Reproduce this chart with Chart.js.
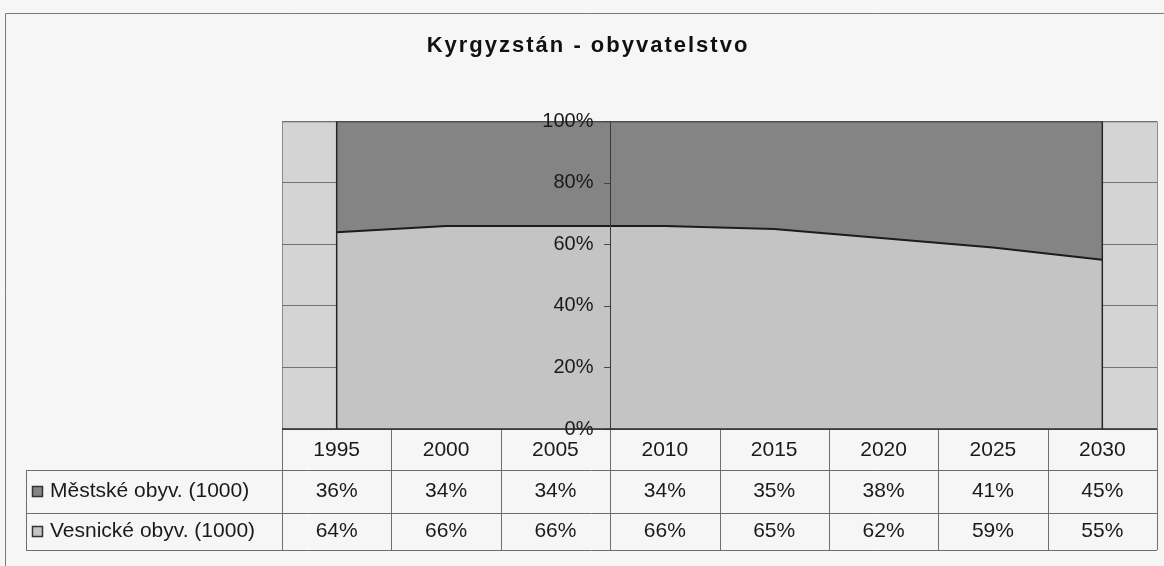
<!DOCTYPE html>
<html>
<head>
<meta charset="utf-8">
<script src="https://cdn.jsdelivr.net/npm/chart.js@4.4.0/dist/chart.umd.min.js"></script>
<style>
  html, body { margin: 0; padding: 0; background: #f6f6f6; }
  #chart { display: block; }
</style>
</head>
<body>
<canvas id="chart" width="1164" height="566"></canvas>
<script>
// data (100% stacked area + data table)
const years = ["1995", "2000", "2005", "2010", "2015", "2020", "2025", "2030"];
const mestske = [36, 34, 34, 34, 35, 38, 41, 45];
const vesnicke = [64, 66, 66, 66, 65, 62, 59, 55];
const seriesNames = ["Městské obyv. (1000)", "Vesnické obyv. (1000)"];
const yTickStep = 20;

const FONT = "'Liberation Sans', Arial, sans-serif";
const DARK = "#848484";
const LIGHT = "#c4c4c4";
const PLOT_BG = "#d4d4d4";
const rowHeights = [41, 43, 37];
const legendLeft = 26;

// page background, frame, plot background, title letter spacing
const backdrop = {
  id: "backdrop",
  beforeDraw(chart) {
    const ctx = chart.ctx, ca = chart.chartArea;
    ctx.save();
    ctx.fillStyle = "#f6f6f6";
    ctx.fillRect(0, 0, chart.width, chart.height);
    ctx.strokeStyle = "#7a7a7a";
    ctx.lineWidth = 1;
    ctx.beginPath();
    ctx.moveTo(5.5, chart.height);
    ctx.lineTo(5.5, 13.5);
    ctx.lineTo(chart.width, 13.5);
    ctx.stroke();
    ctx.fillStyle = PLOT_BG;
    ctx.fillRect(ca.left, ca.top, ca.right - ca.left, ca.bottom - ca.top);
    ctx.strokeStyle = "#8c8c8c";
    ctx.strokeRect(ca.left + 0.5, ca.top + 0.5, ca.right - ca.left, ca.bottom - ca.top);
    ctx.restore();
    ctx.letterSpacing = "2px";
  },
  beforeDatasetsDraw(chart) {
    chart.ctx.letterSpacing = "0px";
  },
  afterDatasetsDraw(chart) {
    const ctx = chart.ctx, xs = chart.scales.x, ys = chart.scales.y;
    const x0 = xs.getPixelForValue(0), x1 = xs.getPixelForValue(years.length - 1);
    ctx.save();
    ctx.strokeStyle = "#262626";
    ctx.lineWidth = 1.5;
    ctx.beginPath();
    [x0, x1].forEach(x => { ctx.moveTo(x, ys.getPixelForValue(0)); ctx.lineTo(x, ys.getPixelForValue(100)); });
    ctx.stroke();
    // small tick marks left of the value axis
    const ax = xs.getPixelForValue(2.5);
    ctx.strokeStyle = "#444";
    ctx.lineWidth = 1;
    ctx.beginPath();
    for (let v = 0; v <= 100; v += yTickStep) {
      const y = Math.round(ys.getPixelForValue(v)) + 0.5;
      ctx.moveTo(ax - 6, y); ctx.lineTo(ax, y);
    }
    ctx.stroke();
    ctx.restore();
  }
};

// the data table under the plot
const dataTable = {
  id: "dataTable",
  afterDraw(chart) {
    const ctx = chart.ctx, ca = chart.chartArea, xs = chart.scales.x;
    const n = years.length, bin = (ca.right - ca.left) / n;
    const top = ca.bottom;
    const r1 = top + rowHeights[0], r2 = r1 + rowHeights[1], r3 = r2 + rowHeights[2];
    ctx.save();
    ctx.strokeStyle = "#6e6e6e";
    ctx.lineWidth = 1;
    ctx.beginPath();
    [r1, r2, r3].forEach(y => { ctx.moveTo(legendLeft, y + 0.5); ctx.lineTo(ca.right, y + 0.5); });
    for (let i = 0; i <= n; i++) {
      const x = Math.round(ca.left + i * bin) + 0.5;
      ctx.moveTo(x, top); ctx.lineTo(x, r3);
    }
    ctx.moveTo(legendLeft + 0.5, r1); ctx.lineTo(legendLeft + 0.5, r3);
    ctx.stroke();
    ctx.strokeStyle = "#2a2a2a";
    ctx.lineWidth = 1.5;
    ctx.beginPath();
    ctx.moveTo(ca.left, top); ctx.lineTo(ca.right, top);
    ctx.stroke();

    ctx.fillStyle = "#1a1a1a";
    ctx.font = "21px " + FONT;
    ctx.textAlign = "center";
    ctx.textBaseline = "middle";
    years.forEach((yr, i) => {
      const x = xs.getPixelForValue(i);
      ctx.fillText(yr, x, (top + r1) / 2 + 1);
      ctx.fillText(mestske[i] + "%", x, (r1 + r2) / 2);
      ctx.fillText(vesnicke[i] + "%", x, (r2 + r3) / 2);
    });

    const rows = [[seriesNames[0], DARK, (r1 + r2) / 2], [seriesNames[1], LIGHT, (r2 + r3) / 2]];
    ctx.textAlign = "left";
    rows.forEach(([name, col, y]) => {
      ctx.fillStyle = col;
      ctx.fillRect(32, Math.round(y - 5.5), 11, 11);
      ctx.strokeStyle = "#333";
      ctx.strokeRect(32.5, Math.round(y - 5.5) + 0.5, 10, 10);
      ctx.fillStyle = "#1a1a1a";
      ctx.fillText(name, 50, y);
    });
    ctx.restore();
  }
};

new Chart(document.getElementById("chart"), {
  type: "line",
  data: {
    labels: years,
    datasets: [
      {
        label: seriesNames[1],
        data: vesnicke,
        yAxisID: "y",
        backgroundColor: LIGHT,
        borderColor: "#1c1c1c",
        borderWidth: 2,
        fill: "origin",
        pointRadius: 0,
        tension: 0
      },
      {
        label: seriesNames[0],
        data: mestske,
        yAxisID: "y",
        backgroundColor: DARK,
        borderColor: "#262626",
        borderWidth: 1.5,
        fill: "-1",
        pointRadius: 0,
        tension: 0
      }
    ]
  },
  options: {
    responsive: false,
    animation: false,
    layout: { padding: { left: 19, right: 7, top: 0, bottom: 137 } },
    plugins: {
      legend: { display: false },
      tooltip: { enabled: false },
      title: {
        display: true,
        text: "Kyrgyzstán - obyvatelstvo",
        color: "#111",
        font: { family: FONT, size: 22, weight: "bold" },
        padding: { top: 33, bottom: 62 }
      }
    },
    scales: {
      x: {
        type: "category",
        offset: true,
        display: false
      },
      pad: {
        type: "linear",
        position: "left",
        display: true,
        grid: { display: false },
        border: { display: false },
        ticks: { display: false },
        afterFit(s) { s.width = 263; }
      },
      y: {
        stacked: true,
        min: 0,
        max: 100,
        position: { x: 2.5 },
        grid: { color: "#727272", lineWidth: 1, drawTicks: false },
        border: { display: true, color: "#3a3a3a", width: 1, z: 1 },
        ticks: {
          stepSize: yTickStep,
          z: 1,
          color: "#1a1a1a",
          font: { family: FONT, size: 20 },
          // trailing spaces keep the labels clear of the axis line
          callback: v => v + "%   "
        }
      }
    }
  },
  plugins: [backdrop, dataTable]
});
</script>
</body>
</html>
